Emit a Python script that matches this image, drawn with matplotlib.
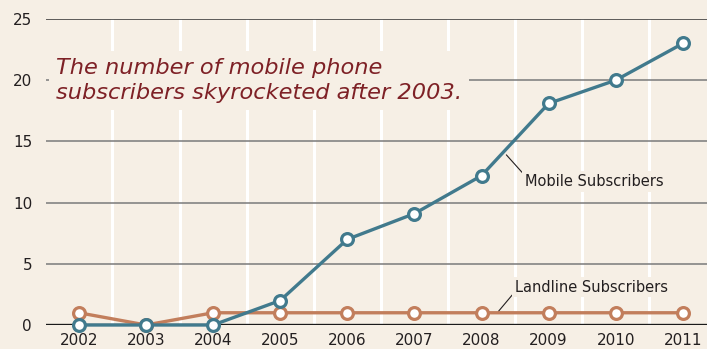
import matplotlib
matplotlib.use("Agg")
import matplotlib.pyplot as plt

years = [2002, 2003, 2004, 2005, 2006, 2007, 2008, 2009, 2010, 2011]
mobile = [0, 0, 0, 2, 7, 9.1, 12.2, 18.1, 20, 23]
landline = [1, 0, 1, 1, 1, 1, 1, 1, 1, 1]
y_ticks = [0, 5, 10, 15, 20, 25]

bg = "#F6EFE5"
mobile_color = "#417A8D"
landline_color = "#C27E5C"
title_color = "#7E2126"

fig = plt.figure(figsize=(7.07, 3.49), dpi=100, facecolor=bg)
ax = fig.add_axes([46 / 707, 24 / 349, 1 - 46 / 707, (325 - 19) / 349])
ax.set_facecolor(bg)

ax.set_xlim(2001.51, 2011.36)
ax.set_ylim(0, 25)

# white column separators between years
for yr in years[:-1]:
    ax.axvline(yr + 0.5, color="white", lw=2.2, zorder=0.5)

# horizontal reference lines
for v in y_ticks[1:]:
    ax.axhline(v, color="#333333" if v == 25 else "#7a7a7a", lw=1.1, zorder=1)
ax.axhline(0, color="#1a1a1a", lw=2.4, zorder=2)

ax.plot(years, landline, color=landline_color, lw=2.4, marker="o", ms=8.5,
        mfc="white", mec=landline_color, mew=2.3, zorder=4, clip_on=False)
ax.plot(years, mobile, color=mobile_color, lw=2.4, marker="o", ms=8.5,
        mfc="white", mec=mobile_color, mew=2.3, zorder=5, clip_on=False)

for s in ax.spines.values():
    s.set_visible(False)
ax.set_yticks(y_ticks)
ax.set_xticks(years)
ax.tick_params(length=0, labelsize=11, colors="#231f20")
ax.tick_params(axis="x", pad=6)
ax.tick_params(axis="y", pad=10)
for lab in ax.get_yticklabels():
    lab.set_horizontalalignment("right")

ax.text(2001.66, 19.95, "The number of mobile phone\nsubscribers skyrocketed after 2003.",
        fontsize=16.2, style="italic", color=title_color, ha="left", va="center",
        linespacing=1.33, zorder=3,
        bbox=dict(boxstyle="square,pad=0.3", fc=bg, ec="none"))

ax.annotate("Mobile Subscribers", xy=(2008.37, 13.9), xytext=(2008.65, 11.7),
            fontsize=10.5, color="#231f20", ha="left", va="center", zorder=3,
            bbox=dict(boxstyle="square,pad=0.2", fc=bg, ec="none"),
            arrowprops=dict(arrowstyle="-", color="#231f20", lw=0.8,
                            shrinkA=0, shrinkB=0, relpos=(0, 0.9)))
ax.annotate("Landline Subscribers", xy=(2008.25, 1.1), xytext=(2008.5, 3.1),
            fontsize=10.5, color="#231f20", ha="left", va="center", zorder=3,
            bbox=dict(boxstyle="square,pad=0.2", fc=bg, ec="none"),
            arrowprops=dict(arrowstyle="-", color="#231f20", lw=0.8,
                            shrinkA=0, shrinkB=0, relpos=(0, 0.2)))

fig.savefig("out.png", dpi=100, facecolor=bg)
